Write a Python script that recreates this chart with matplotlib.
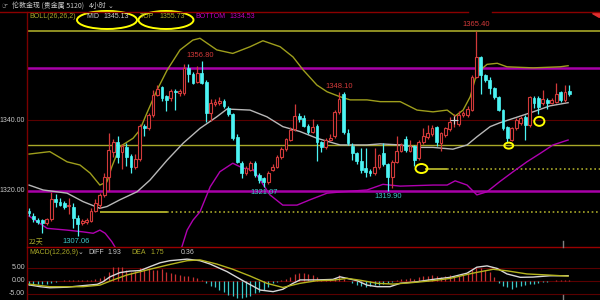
import matplotlib
matplotlib.use("Agg")
import matplotlib.pyplot as plt
from matplotlib.patches import Ellipse, Polygon
import numpy as np

# ---- data ----
opens = [1314.3, 1312.9, 1311.7, 1311.7, 1310.8, 1312.0, 1317.6, 1316.8, 1316.4, 1315.6,
         1315.3, 1312.2, 1310.8, 1311.0, 1311.5, 1314.3, 1315.9, 1318.8, 1324.0, 1331.1,
         1333.9, 1331.1, 1332.3, 1329.9, 1326.8, 1328.9, 1338.4, 1337.7, 1341.5, 1347.2,
         1349.4, 1346.9, 1346.3, 1348.4, 1347.7, 1347.7, 1355.0, 1353.1, 1351.0, 1353.5,
         1351.0, 1342.2, 1344.6, 1344.8, 1345.6, 1343.4, 1341.8, 1335.3, 1328.0, 1324.9,
         1325.9, 1328.0, 1324.5, 1323.6, 1322.6, 1325.9, 1326.8, 1329.5, 1331.8, 1334.4,
         1337.5, 1341.2, 1340.6, 1338.4, 1336.8, 1338.4, 1333.9, 1332.3, 1334.5, 1335.6,
         1342.3, 1347.5, 1336.4, 1332.7, 1330.6, 1328.5, 1326.4, 1325.7, 1324.9, 1326.8,
         1330.6, 1327.5, 1324.0, 1328.2, 1331.4, 1334.6, 1331.4, 1332.7, 1329.2, 1333.8,
         1335.2, 1336.1, 1338.0, 1333.6, 1335.8, 1337.4, 1340.0, 1338.9, 1341.5, 1341.5,
         1342.9, 1352.4, 1357.9, 1352.9, 1351.5, 1349.1, 1346.5, 1342.9, 1338.0, 1334.4,
         1337.7, 1339.1, 1341.0, 1338.7, 1346.4, 1346.4, 1344.8, 1345.8, 1345.0, 1345.3,
         1347.9, 1345.8, 1348.4]
highs = [1315.0, 1313.6, 1312.2, 1312.0, 1312.3, 1319.7, 1319.0, 1318.0, 1317.2, 1317.8,
         1316.5, 1313.0, 1312.0, 1312.2, 1315.0, 1317.5, 1319.3, 1325.0, 1336.5, 1334.8,
         1335.5, 1333.2, 1333.5, 1330.5, 1330.5, 1339.0, 1339.0, 1342.0, 1348.5, 1350.0,
         1349.8, 1347.3, 1349.0, 1349.0, 1349.0, 1356.0, 1356.0, 1353.6, 1355.5, 1356.8,
         1351.5, 1346.0, 1346.0, 1346.5, 1346.0, 1344.0, 1342.0, 1336.0, 1328.5, 1327.0,
         1328.5, 1328.5, 1325.0, 1324.0, 1325.5, 1327.5, 1330.2, 1332.3, 1335.0, 1338.0,
         1344.5, 1342.0, 1341.5, 1339.0, 1340.5, 1339.0, 1334.2, 1335.0, 1336.0, 1343.0,
         1348.1, 1348.1, 1337.5, 1333.5, 1331.0, 1332.0, 1332.2, 1326.2, 1332.0, 1330.5,
         1333.5, 1328.0, 1328.7, 1335.5, 1333.6, 1335.6, 1334.3, 1333.0, 1334.3, 1337.8,
         1338.6, 1338.6, 1338.5, 1336.8, 1338.2, 1341.0, 1341.8, 1342.5, 1342.6, 1344.0,
         1353.0, 1365.4, 1358.3, 1353.2, 1352.3, 1349.5, 1347.0, 1343.2, 1338.5, 1338.2,
         1340.6, 1341.2, 1341.5, 1347.0, 1346.8, 1346.8, 1348.5, 1346.2, 1346.3, 1350.5,
         1348.3, 1350.0, 1350.0]
lows = [1312.8, 1311.2, 1310.6, 1308.0, 1310.2, 1311.5, 1315.5, 1315.6, 1314.8, 1313.4,
        1309.5, 1307.06, 1310.2, 1310.6, 1311.2, 1314.0, 1315.2, 1318.2, 1319.8, 1329.5,
        1328.0, 1326.3, 1327.0, 1325.0, 1326.2, 1328.5, 1335.5, 1337.2, 1341.0, 1346.8,
        1345.5, 1342.5, 1345.5, 1342.9, 1347.0, 1347.2, 1351.0, 1350.3, 1350.5, 1350.3,
        1339.5, 1339.8, 1344.0, 1344.3, 1343.5, 1341.2, 1334.5, 1327.8, 1323.5, 1324.5,
        1325.5, 1324.0, 1322.1, 1321.07, 1322.0, 1325.5, 1326.5, 1329.0, 1331.3, 1334.0,
        1337.0, 1339.5, 1338.0, 1336.0, 1336.3, 1328.4, 1331.0, 1331.8, 1334.0, 1335.0,
        1341.8, 1336.0, 1333.0, 1328.7, 1327.5, 1325.0, 1324.0, 1324.3, 1324.5, 1326.3,
        1327.0, 1319.9, 1320.8, 1327.8, 1331.0, 1331.0, 1331.0, 1327.0, 1328.8, 1333.4,
        1334.8, 1335.6, 1332.8, 1331.2, 1335.3, 1337.0, 1338.2, 1338.5, 1341.0, 1341.0,
        1342.5, 1352.0, 1347.5, 1351.0, 1347.5, 1346.0, 1342.5, 1337.2, 1333.9, 1334.0,
        1337.2, 1338.6, 1334.5, 1338.2, 1343.5, 1341.7, 1344.3, 1343.2, 1344.5, 1345.0,
        1345.3, 1345.3, 1347.0]
closes = [1313.6, 1311.9, 1311.2, 1310.8, 1311.9, 1317.6, 1316.8, 1316.0, 1315.4, 1316.0,
          1312.2, 1310.5, 1311.5, 1311.7, 1314.3, 1316.4, 1318.8, 1324.0, 1331.6, 1333.9,
          1329.7, 1332.7, 1329.7, 1326.8, 1329.0, 1338.4, 1337.7, 1341.5, 1347.2, 1348.8,
          1346.3, 1345.8, 1348.4, 1347.9, 1348.4, 1355.0, 1353.1, 1350.7, 1353.5, 1350.7,
          1342.2, 1345.0, 1345.3, 1345.6, 1344.1, 1341.8, 1334.9, 1328.2, 1324.9, 1326.4,
          1328.0, 1324.5, 1323.1, 1322.6, 1325.0, 1326.8, 1329.7, 1331.8, 1334.6, 1337.2,
          1341.3, 1340.3, 1338.4, 1336.8, 1338.2, 1333.9, 1332.5, 1334.5, 1335.0, 1342.3,
          1346.0, 1336.6, 1333.6, 1330.8, 1328.5, 1325.9, 1325.4, 1324.9, 1326.8, 1330.1,
          1327.5, 1324.0, 1328.2, 1331.4, 1333.0, 1331.6, 1332.7, 1328.7, 1333.8, 1335.5,
          1336.4, 1337.7, 1333.9, 1336.3, 1337.7, 1339.6, 1340.1, 1341.5, 1342.0, 1343.1,
          1352.4, 1358.0, 1352.8, 1351.5, 1349.1, 1346.5, 1342.9, 1337.7, 1334.9, 1337.7,
          1340.1, 1340.6, 1338.7, 1346.5, 1344.8, 1343.7, 1346.0, 1345.0, 1345.8, 1347.5,
          1345.8, 1348.1, 1347.5]

# bollinger bands (candle index, price)
upper_x = [0, 4.7, 8.6, 11.5, 13.8, 16, 17.6, 18.7, 20.5, 23.5, 25, 26.6, 28.9, 31.2, 34.1, 37,
           38.6, 42.4, 46, 49.9, 52.8, 56.7, 59.6, 61.9, 65, 67.3, 70.2, 72.5, 76.3, 79.3, 83.8,
           87.6, 91.2, 94.4, 96.2, 98, 99.6, 101.1, 103.4, 105.7, 107.9, 113.8, 119.9, 121.7]
upper_y = [1330.4, 1331.1, 1328.2, 1327.3, 1325.0, 1321.6, 1322.5, 1326.8, 1332.5, 1334.9,
           1337.2, 1342.0, 1348.6, 1354.3, 1360.0, 1362.8, 1363.3, 1360.0, 1359.0, 1360.9,
           1362.6, 1360.9, 1358.0, 1354.3, 1350.0, 1348.1, 1346.7, 1345.8, 1345.8, 1345.3,
           1345.3, 1342.9, 1342.4, 1342.9, 1341.2, 1342.9, 1346.7, 1353.4, 1355.9, 1356.2,
           1355.2, 1354.9, 1355.2, 1355.5]
mid_x = [0, 3.2, 8.6, 12.2, 16, 17.6, 20.5, 24.4, 27.3, 31.2, 34.8, 38.6, 42.4, 44.7, 49.9,
         53.7, 57.3, 61.2, 65, 70.2, 76.3, 79.3, 83.8, 87.6, 91.2, 95.7, 98.9, 101.1, 104.1,
         106.3, 110.2, 113.8, 117.6, 121.7]
mid_y = [1321.6, 1320.2, 1319.3, 1316.9, 1315.0, 1315.5, 1317.4, 1319.7, 1323.0, 1328.7,
         1333.5, 1337.7, 1341.0, 1343.2, 1342.9, 1341.0, 1338.2, 1336.8, 1334.9, 1333.0,
         1333.0, 1333.3, 1333.0, 1332.3, 1332.3, 1331.8, 1333.0, 1335.3, 1338.2, 1339.3,
         1340.9, 1342.4, 1344.1, 1345.0]
lower_x = [0, 4.1, 8.6, 12.2, 14.5, 16, 17.2, 18.7, 19.9, 23, 27, 31, 34.5, 35.7, 37, 38.6,
           40.9, 43.1, 46, 48.3, 50.6, 52.2, 54.4, 57.3, 60.5, 63.4, 67.3, 70.9, 76.3, 79.9,
           83.8, 91.2, 94.4, 96.2, 98.9, 101.1, 103.4, 106.3, 109.3, 112.4, 115.4, 118.3, 121.7]
lower_y = [1312.8, 1309.3, 1308.8, 1308.3, 1307.9, 1308.8, 1307.9, 1305.5, 1303.0, 1299.0,
           1297.5, 1299.5, 1304.0, 1308.8, 1311.6, 1314.0, 1321.1, 1325.4, 1327.8, 1326.4,
           1326.0, 1323.0, 1318.8, 1315.9, 1315.9, 1317.4, 1319.3, 1319.7, 1320.2, 1321.8,
           1321.3, 1321.6, 1321.6, 1322.8, 1321.6, 1318.8, 1319.7, 1322.6, 1325.4, 1328.2,
           1330.6, 1333.0, 1334.4]

# macd
macd_hist = [-1.5, -1.4, -1.3, -1.3, -1.1, -0.8, -0.5, -0.3, 0.2, 0.3,
             0.2, 0.3, 0.3, 0.3, 0.4, 0.5, 0.9, 2.0, 3.5, 5.2,
             5.4, 5.2, 4.1, 3.5, 3.8, 4.8, 4.6, 4.4, 4.2, 4.0,
             4.4, 3.5, 2.9, 2.7, 2.3, 1.9, 1.7, 1.3, 0.9, 0.4,
             -1.0, -2.0, -2.3, -3.6, -4.5, -5.4, -6.0, -6.8, -6.8, -6.3,
             -5.8, -4.9, -4.2, -3.4, -2.3, -1.0, -0.4, 0.3, 0.8, 1.5,
             2.5, 3.0, 3.1, 2.5, 2.2, 1.5, 0.3, 0.3, 0.5, 1.0,
             2.2, 0.8, -0.3, -0.8, -1.5, -2.0, -2.3, -2.0, -1.7, -1.5,
             -1.2, -1.0, -0.5, 0.3, 0.5, 0.7, 0.9, 0.6, 1.3, 2.0,
             2.0, 2.2, 1.7, 1.5, 2.0, 2.2, 1.8, 1.8, 2.2, 3.0,
             4.2, 4.8, 5.0, 4.3, 3.2, 1.5, -0.8, -2.0, -2.5, -3.0,
             -2.6, -2.0, -1.6, -1.4, -1.2, -0.8, -0.5, -0.4, -0.2, 0.2,
             0.3, 0.3, 0.36]
diff_x = [0, 2.5, 4.7, 8.6, 12.2, 15.4, 16.7, 18.3, 20.5, 22.8, 25.1, 27.3, 29.6, 31.8, 35.7,
          38.6, 40.9, 44.7, 48.3, 52.2, 55.1, 57.3, 59.6, 61.2, 65, 68.6, 70.2, 71.8, 74.1,
          76.3, 78.6, 81.5, 83.8, 87.6, 91.2, 95.1, 98.9, 101.1, 103.4, 105.7, 107.9, 110.9,
          113.8, 117.6, 121.7]
diff_y = [-1.6, -2.3, -2.7, -2.5, -1.9, -1.4, -0.4, 1.5, 3.1, 3.7, 3.9, 5.4, 6.9, 7.7, 8.3,
          7.7, 6.4, 3.5, 0.0, -3.6, -4.2, -3.3, -1.0, 0.3, 0.3, 0.5, 1.5, 0.9, 0.0,
          -1.7, -2.3, -2.3, -1.0, -0.4, 0.5, 1.3, 2.9, 5.2, 5.7, 4.7, 2.6, 1.3,
          1.4, 1.9, 1.93]
dea_x = [0, 4.7, 12.2, 16, 19, 22.1, 27.3, 31.2, 35.7, 38.6, 42.4, 46, 49.9, 53.7, 57.3, 61.2,
         65, 68.6, 71.8, 74.7, 78.6, 82.2, 86, 91.2, 95.1, 100.2, 104.8, 107.9, 112.4, 117,
         121.7]
dea_y = [-1.3, -2.3, -2.3, -1.7, 0.3, 2.2, 4.4, 6.0, 7.7, 8.0, 6.4, 4.4, 1.8, -1.0, -2.6, -1.0,
         0.0, 0.2, 0.9, 0.2, -1.0, -1.3, -0.8, 0.0, 0.9, 2.9, 4.4, 3.8, 2.6, 2.2,
         1.75]

# ---- styling ----
RED = "#d23a3a"
CYAN = "#4cf4f4"
OLIVE = "#a8a828"
MAGENTA = "#a800a8"
GREY = "#c8c8c8"
DARKRED = "#5a0000"
FONT = ["Liberation Sans", "DejaVu Sans"]
CJK = ["Noto Sans CJK SC", "DejaVu Sans"]
FS = 5

W, H = 600, 300


def fx(x):
    return x / W


def fy(y):
    return 1 - y / H


fig = plt.figure(figsize=(6, 3), dpi=100, facecolor="black")

ax = fig.add_axes([fx(27), fy(247), fx(573), 235 / H])
ax.set_facecolor("black")
ax.set_xlim(-0.45, 128.9)
ax.set_ylim(1304.0, 1370.77)
ax.axis("off")

idx = np.arange(len(opens))
o = np.array(opens)
c = np.array(closes)
up = c >= o

# horizontal reference lines
ax.axhline(1340, color=DARKRED, lw=0.8, zorder=0)
ax.axhline(1365.4, color=OLIVE, lw=1.2, zorder=1)
ax.axhline(1332.9, color=OLIVE, lw=1.0, zorder=1)
ax.axhline(1354.9, color=MAGENTA, lw=1.8, zorder=1)
ax.axhline(1320.0, color=MAGENTA, lw=1.8, zorder=1)
ax.hlines(1314.0, 16, 31.2, color=OLIVE, lw=1.4, zorder=1)
ax.hlines(1314.0, 31.2, 129, color=OLIVE, lw=1.2, linestyles=(0, (1, 1.6)), zorder=1)
ax.hlines(1326.3, 89.4, 94.4, color=OLIVE, lw=1.4, zorder=1)
ax.hlines(1326.3, 94.4, 129, color=OLIVE, lw=1.2, linestyles=(0, (1, 1.6)), zorder=1)

# bollinger
ax.plot(upper_x, upper_y, color="#9e9e1c", lw=1.0, zorder=2)
ax.plot(mid_x, mid_y, color="#b8b8b8", lw=1.0, zorder=2)
ax.plot(lower_x, lower_y, color="#b000b0", lw=1.0, zorder=2)

# candles
ax.vlines(idx[up], np.array(lows)[up], np.array(highs)[up], color=RED, lw=0.9, zorder=3)
ax.vlines(idx[~up], np.array(lows)[~up], np.array(highs)[~up], color=CYAN, lw=0.9, zorder=3)
body = np.maximum(np.abs(c - o), 0.15)
ax.bar(idx[up], body[up], bottom=np.minimum(o, c)[up], width=0.62,
       facecolor="black", edgecolor=RED, linewidth=0.8, zorder=4)
ax.bar(idx[~up], body[~up], bottom=np.minimum(o, c)[~up], width=0.62,
       facecolor=CYAN, edgecolor=CYAN, linewidth=0.5, zorder=4)

# crosshair mark
ax.plot([96], [1340.0], marker="+", color="#d0d0d0", ms=6, mew=0.8, zorder=5)

# high / low labels
ax.text(38.6, 1358.4, "1356.80", color=RED, fontsize=FS + 0.5, family=FONT, ha="center", va="center")
ax.text(70, 1349.6, "1348.10", color=RED, fontsize=FS + 0.5, family=FONT, ha="center", va="center")
ax.text(101, 1367.1, "1365.40", color=RED, fontsize=FS + 0.5, family=FONT, ha="center", va="center")
ax.text(53, 1319.5, "1321.07", color="#3cc8c8", fontsize=FS + 0.5, family=FONT, ha="center", va="center")
ax.text(81, 1318.3, "1319.90", color="#3cc8c8", fontsize=FS + 0.5, family=FONT, ha="center", va="center")
ax.text(10.7, 1305.5, "1307.06", color="#3cc8c8", fontsize=FS + 0.5, family=FONT, ha="center", va="center")
ax.text(0, 1305.5, "22天", color=OLIVE, fontsize=FS, family=CJK, ha="left", va="center")

# yellow circles
for (ex, ey, ew, eh) in [(88.6, 1326.3, 2.7, 2.56), (108.3, 1332.8, 2.0, 1.7), (115.2, 1339.7, 2.3, 2.56)]:
    ax.add_patch(Ellipse((ex, ey), ew, eh, fill=False, edgecolor="#ffff00", lw=1.4, zorder=6))

# ---- MACD panel ----
mx = fig.add_axes([fx(27), 0, fx(573), 53 / H])
mx.set_facecolor("black")
mx.set_xlim(-0.45, 128.9)
mx.set_ylim(-7.42, 12.96)
mx.axis("off")
for lv in (5, 0, -5):
    mx.axhline(lv, color=DARKRED, lw=0.8, zorder=0)
h = np.array(macd_hist)
mx.vlines(idx[h >= 0], 0, h[h >= 0], color="#c83232", lw=0.9, zorder=2)
mx.vlines(idx[h < 0], 0, h[h < 0], color="#3cc8c8", lw=0.9, zorder=2)
mx.plot(diff_x, diff_y, color="#d8d8d8", lw=1.0, zorder=3)
mx.plot(dea_x, dea_y, color="#b4b41e", lw=1.0, zorder=3)

# ---- frame lines ----
fig.add_artist(plt.Line2D([fx(27), fx(27)], [fy(12), fy(300)], color="#7a0000", lw=1.0))
fig.add_artist(plt.Line2D([0, fx(468)], [fy(11.5), fy(11.5)], color="#8b0000", lw=1.0))
fig.add_artist(plt.Line2D([fx(492), 1], [fy(11.5), fy(11.5)], color="#8b0000", lw=1.0))
fig.add_artist(plt.Line2D([fx(27), 1], [fy(246.8), fy(246.8)], color="#9a0000", lw=1.0))
fig.add_artist(plt.Line2D([fx(563), fx(563)], [fy(241), fy(247)], color="#808080", lw=1.0))
fig.add_artist(plt.Line2D([fx(563), fx(563)], [fy(295), fy(300)], color="#808080", lw=1.0))
fig.add_artist(Polygon([[fx(592), fy(12.5)], [fx(599), fy(12.5)], [fx(599), fy(17)]],
                       closed=True, color="#e03030", transform=fig.transFigure))

# ---- header text ----
fig.text(fx(1), fy(6), "☞", color=GREY, fontsize=FS, family=["DejaVu Sans"], va="center")
fig.text(fx(12), fy(6), "伦敦金现 (贵金属 5120)", color=GREY, fontsize=FS, family=CJK, va="center")
fig.text(fx(89), fy(6), "4小时", color=GREY, fontsize=FS, family=CJK, va="center")
fig.text(fx(108), fy(6.5), "⌄", color=GREY, fontsize=FS, family=["DejaVu Sans"], va="center")

ly = fy(17)
fig.text(fx(29), ly, "BOLL(26,26,2)", color=OLIVE, fontsize=FS, family=FONT, va="center")
fig.text(fx(86), ly, "MID", color=GREY, fontsize=FS, family=FONT, va="center")
fig.text(fx(103), ly, "1345.13", color=GREY, fontsize=FS, family=FONT, va="center")
fig.text(fx(140), ly, "TOP", color=OLIVE, fontsize=FS, family=FONT, va="center")
fig.text(fx(159), ly, "1355.73", color=OLIVE, fontsize=FS, family=FONT, va="center")
fig.text(fx(195), ly, "BOTTOM", color="#c000c0", fontsize=FS, family=FONT, va="center")
fig.text(fx(229), ly, "1334.53", color="#c000c0", fontsize=FS, family=FONT, va="center")
fig.add_artist(Ellipse((fx(107), fy(20)), fx(60), 18 / H, transform=fig.transFigure,
                       fill=False, edgecolor="#ffff00", lw=1.4))
fig.add_artist(Ellipse((fx(166), fy(20)), fx(55), 18 / H, transform=fig.transFigure,
                       fill=False, edgecolor="#ffff00", lw=1.4))

my = fy(253)
fig.text(fx(29), my, "MACD(12,26,9)", color=OLIVE, fontsize=FS, family=FONT, va="center")
fig.text(fx(78), my + 0.004, "⌄", color=GREY, fontsize=FS, family=["DejaVu Sans"], va="center")
fig.text(fx(88), my, "DIFF", color=GREY, fontsize=FS, family=FONT, va="center")
fig.text(fx(107), my, "1.93", color=GREY, fontsize=FS, family=FONT, va="center")
fig.text(fx(131), my, "DEA", color=OLIVE, fontsize=FS, family=FONT, va="center")
fig.text(fx(150), my, "1.75", color=OLIVE, fontsize=FS, family=FONT, va="center")
fig.text(fx(181), my, "0.36", color=GREY, fontsize=FS, family=FONT, va="center")

# axis labels
for txt, y in [("1340.00", 120.3), ("1320.00", 190.7)]:
    fig.text(fx(25), fy(y), txt, color=GREY, fontsize=FS, family=FONT, ha="right", va="center")
for txt, y in [("5.00", 267.7), ("0.00", 280.7), ("-5.00", 293.7)]:
    fig.text(fx(25), fy(y), txt, color=GREY, fontsize=FS, family=FONT, ha="right", va="center")

fig.savefig("out.png", dpi=100, facecolor="black")
